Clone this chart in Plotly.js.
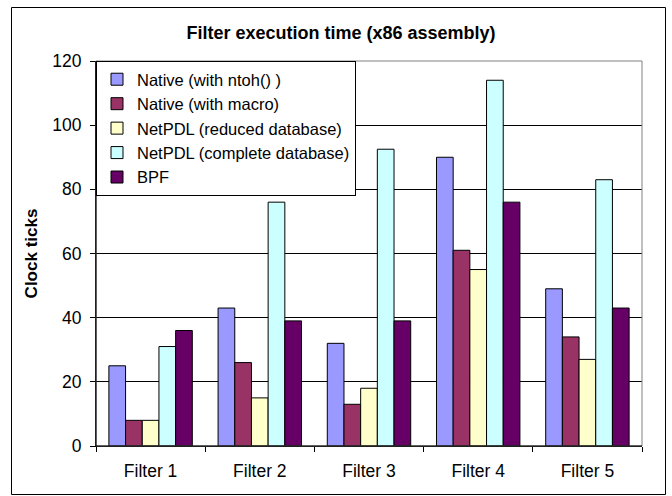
<!DOCTYPE html>
<html>
<head>
<meta charset="utf-8">
<script src="https://cdn.plot.ly/plotly-3.0.1.min.js"></script>
<style>
html,body{margin:0;padding:0;background:#fff;}
#chart{width:672px;height:496px;}
</style>
</head>
<body>
<div id="chart"></div>
<script>
const categories = ["Filter 1", "Filter 2", "Filter 3", "Filter 4", "Filter 5"];
const seriesNames = ["Native (with ntoh() )", "Native (with macro)", "NetPDL (reduced database)", "NetPDL (complete database)", "BPF"];
const nativeNtoh = [25, 43, 32, 90, 49];
const nativeMacro = [8, 26, 13, 61, 34];
const netpdlReduced = [8, 15, 18, 55, 27];
const netpdlComplete = [31, 76, 92.5, 114, 83];
const bpf = [36, 39, 39, 76, 43];
const yTicks = [0, 20, 40, 60, 80, 100, 120];

const colors = ["#9999FF", "#993366", "#FFFFCC", "#CCFFFF", "#660066"];
const values = [nativeNtoh, nativeMacro, netpdlReduced, netpdlComplete, bpf];

const traces = values.map((v, i) => ({
  type: "bar",
  name: seriesNames[i],
  x: categories,
  y: v,
  marker: {color: colors[i], line: {color: "#000", width: 1}},
  hoverinfo: "none"
}));

const L = 96, R = 30, T = 61, B = 50, W = 672, H = 496;
const pw = W - L - R, ph = H - T - B;
const px = v => (v - L) / pw;
const py = v => (H - B - v) / ph;

const layout = {
  width: W, height: H,
  margin: {l: L, r: R, t: T, b: B, pad: 0},
  paper_bgcolor: "#fff",
  plot_bgcolor: "#fff",
  font: {family: "Liberation Sans, Arial, sans-serif", size: 17, color: "#000"},
  title: {
    text: "<b>Filter execution time (x86 assembly)</b>",
    font: {size: 18, color: "#000"},
    xref: "container", x: 341 / W, xanchor: "center",
    yref: "container", y: 1 - 33 / H, yanchor: "middle"
  },
  barmode: "group",
  bargap: 0.236,
  bargroupgap: 0,
  showlegend: true,
  legend: {
    x: 0, y: 1, xanchor: "left", yanchor: "top",
    bgcolor: "#fff", bordercolor: "#000", borderwidth: 1,
    font: {size: 16.5, color: "#000"},
    tracegroupgap: 0,
    itemwidth: 30,
    traceorder: "normal"
  },
  xaxis: {
    type: "category",
    showgrid: false,
    showline: true, linecolor: "#000", linewidth: 1,
    ticks: "outside", ticklen: 5, tickcolor: "#000",
    tickson: "boundaries",
    tickfont: {size: 17.5},
    ticklabelstandoff: 9,
    zeroline: false
  },
  yaxis: {
    range: [0, 120],
    tickvals: yTicks,
    ticktext: yTicks.map(String),
    showgrid: true, gridcolor: "#000", gridwidth: 1,
    showline: true, linecolor: "#000", linewidth: 1,
    ticks: "outside", ticklen: 5, tickcolor: "#000",
    tickfont: {size: 17.5},
    ticklabelstandoff: 5,
    zeroline: false,
    title: {text: "<b>Clock ticks</b>", font: {size: 17}, standoff: 10}
  },
  shapes: [
    {type: "rect", xref: "paper", yref: "paper", x0: 0, x1: 1, y0: 0, y1: 1,
     line: {color: "#808080", width: 1}, layer: "above"},
    {type: "line", xref: "paper", yref: "paper", x0: 0, x1: 0, y0: 0, y1: 1,
     line: {color: "#000", width: 1}, layer: "above"},
    {type: "line", xref: "paper", yref: "paper", x0: 0, x1: 1, y0: 0, y1: 0,
     line: {color: "#000", width: 1}, layer: "above"},
    {type: "rect", xref: "paper", yref: "paper", x0: px(11.5), x1: px(665.5), y0: py(494.5), y1: py(7.5),
     line: {color: "#000", width: 1}, layer: "below"}
  ]
};

Plotly.newPlot("chart", traces, layout, {staticPlot: true, displayModeBar: false});
</script>
</body>
</html>
